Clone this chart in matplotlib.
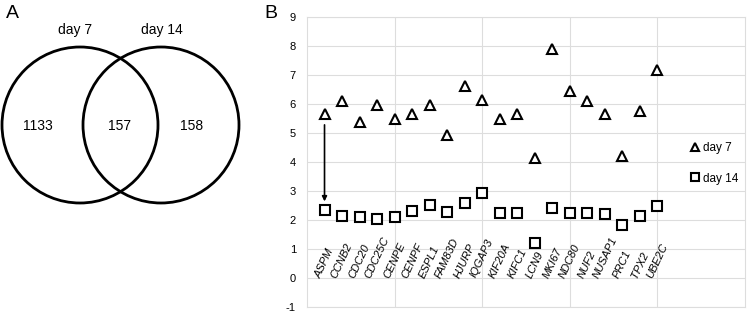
"""Venn diagram of day 7 / day 14 genes and expression of shared cell-cycle genes."""
import matplotlib.pyplot as plt
from matplotlib.patches import Circle

plt.rcParams["font.family"] = ["Liberation Sans", "DejaVu Sans"]
plt.rcParams["axes.unicode_minus"] = False

# panel A: venn counts
venn_sets = ["day 7", "day 14"]
venn_counts = [1133, 157, 158]  # day 7 only, shared, day 14 only

# panel B: per-gene values
genes = ["ASPM", "CCNB2", "CDC20", "CDC25C", "CENPE", "CENPF", "ESPL1", "FAM83D",
         "HJURP", "IQGAP3", "KIF20A", "KIFC1", "LCN9", "MKI67", "NDC80", "NUF2",
         "NUSAP1", "PRC1", "TPX2", "UBE2C"]
day7 = [5.66, 6.11, 5.37, 5.97, 5.50, 5.64, 5.98, 4.94, 6.63, 6.13,
        5.50, 5.67, 4.13, 7.91, 6.46, 6.10, 5.67, 4.20, 5.77, 7.17]
day14 = [2.35, 2.13, 2.12, 2.03, 2.09, 2.30, 2.52, 2.28, 2.60, 2.92,
         2.24, 2.24, 1.20, 2.40, 2.24, 2.24, 2.20, 1.83, 2.13, 2.47]
arrow_from, arrow_to = 5.28, 2.64

fig = plt.figure(figsize=(7.5, 3.12), dpi=100)

# ---- panel A ----
axa = fig.add_axes([0, 0, 290 / 750, 1])
axa.set_xlim(0, 290)
axa.set_ylim(312, 0)
axa.axis("off")
for cx in (80, 161):
    axa.add_patch(Circle((cx, 125), 78, fill=False, lw=2, ec="black"))
axa.text(75, 30, venn_sets[0], ha="center", va="center", fontsize=10)
axa.text(162, 30, venn_sets[1], ha="center", va="center", fontsize=10)
for x, n in zip((38, 120, 192), venn_counts):
    axa.text(x, 126, str(n), ha="center", va="center", fontsize=10)
fig.text(0.008, 0.985, "A", fontsize=14, ha="left", va="top")
fig.text(0.352, 0.985, "B", fontsize=14, ha="left", va="top")

# ---- panel B ----
ax = fig.add_axes([307 / 750, 1 - 307 / 312, 438 / 750, 290 / 312])
x = list(range(1, len(genes) + 1))
ax.plot(x, day7, ls="none", marker="^", ms=7.5, mfc="white", mec="black",
        mew=1.5, label="day 7")
ax.plot(x, day14, ls="none", marker="s", ms=7.5, mfc="white", mec="black",
        mew=1.5, label="day 14")
ax.annotate("", xy=(1, arrow_to), xytext=(1, arrow_from),
            arrowprops=dict(arrowstyle="-|>", lw=1.2, color="black",
                            mutation_scale=7, shrinkA=0, shrinkB=0))
for xi, g in zip(x, genes):
    ax.text(xi, -0.05, g, rotation=65, ha="center", va="bottom",
            fontsize=8, style="italic")

ax.set_xlim(0, 25)
ax.set_ylim(-1, 9)
ax.set_yticks(range(-1, 10))
ax.set_xticks([5, 10, 15, 20])
ax.set_xticklabels([])
ax.tick_params(length=0, labelsize=8, pad=8)
ax.grid(True, color="#dddddd", lw=0.8)
ax.set_axisbelow(True)
for s in ax.spines.values():
    s.set_color("#dddddd")
    s.set_linewidth(0.8)
ax.legend(loc="upper left", bbox_to_anchor=(0.872, 0.57), frameon=False,
          fontsize=8.5, handlelength=1, handletextpad=0.2, borderpad=0,
          borderaxespad=0, labelspacing=1.6, markerscale=0.7)

fig.savefig("out.png", dpi=100)
